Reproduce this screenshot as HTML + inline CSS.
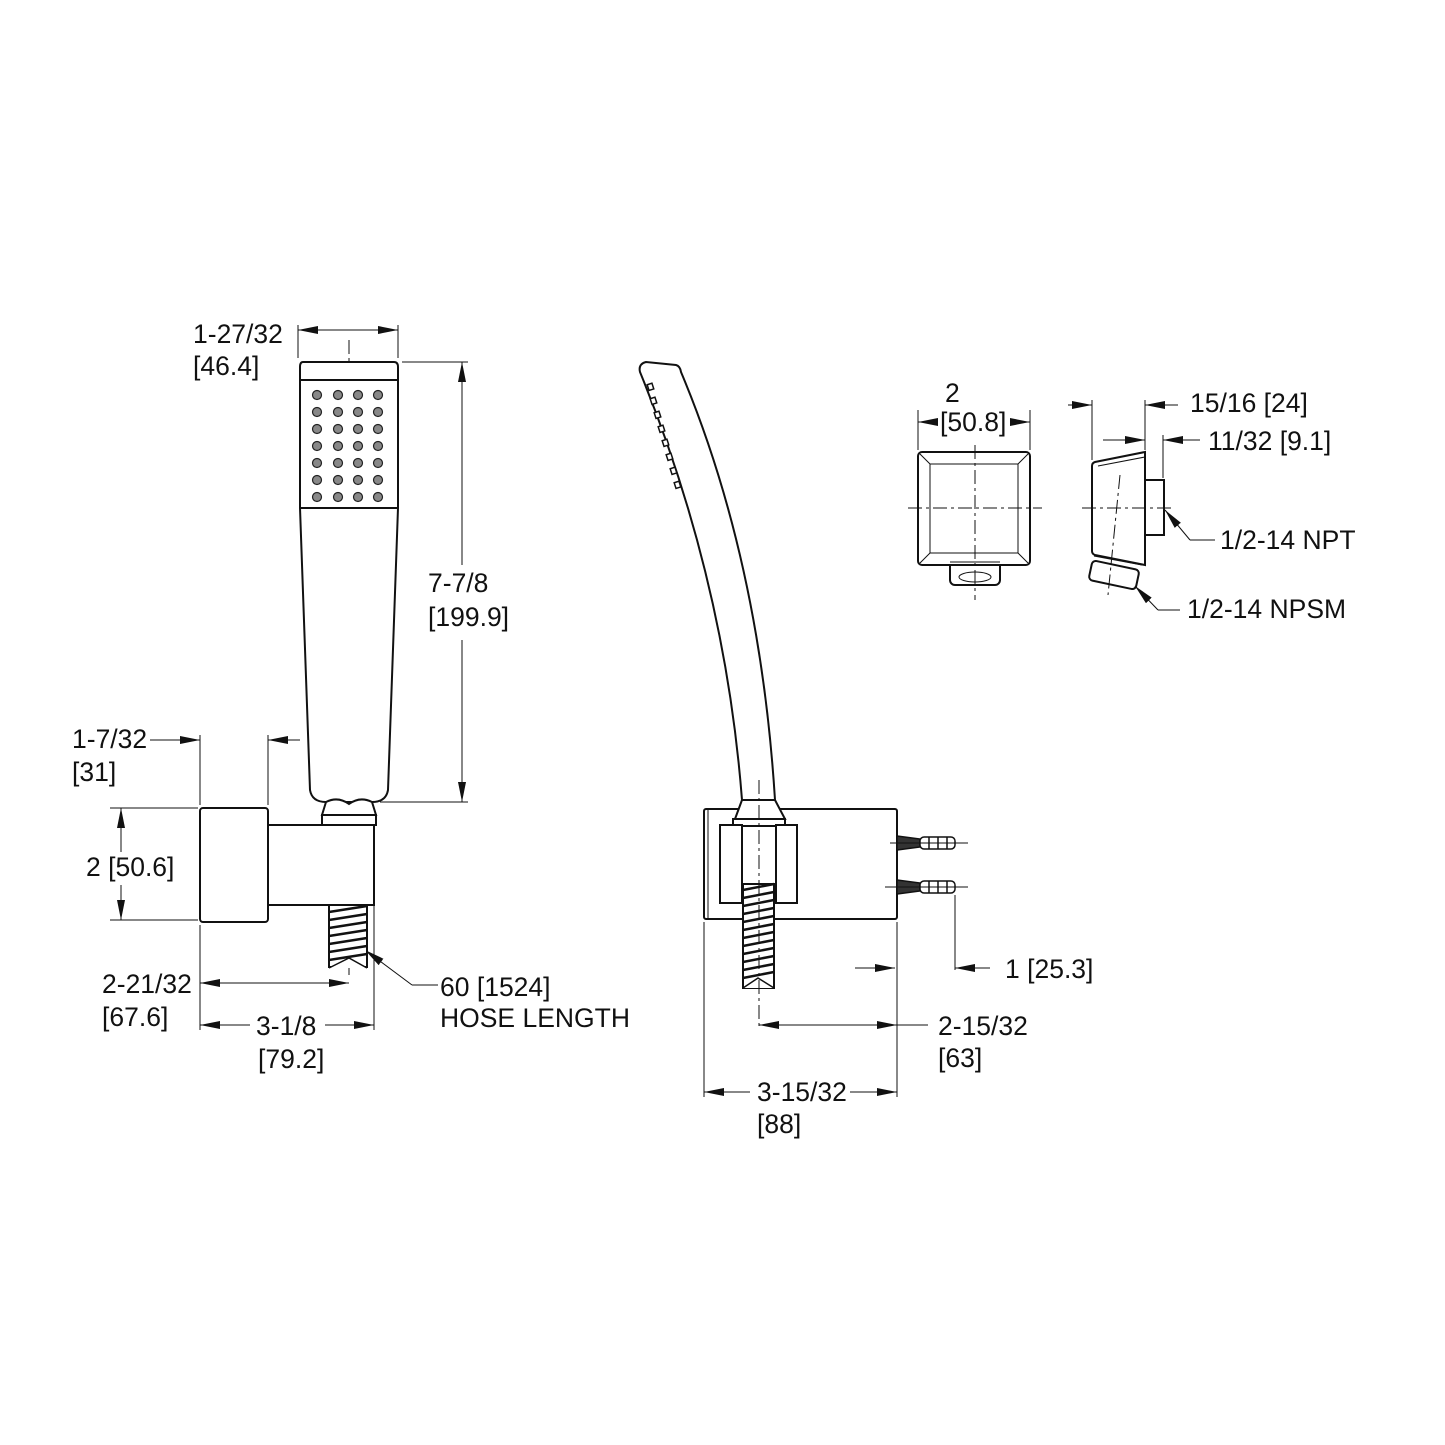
<!DOCTYPE html>
<html><head><meta charset="utf-8"><style>
html,body{margin:0;padding:0;background:#fff}
svg{display:block}
text{font-family:"Liberation Sans",Arial,sans-serif;font-size:26.5px;fill:#111}
</style></head><body>
<svg width="1445" height="1445" viewBox="0 0 1445 1445" xmlns="http://www.w3.org/2000/svg">
<defs>
<marker id="a" viewBox="0 0 20 8" refX="20" refY="4" markerWidth="20" markerHeight="8" markerUnits="userSpaceOnUse" orient="auto-start-reverse"><path d="M0,0 L20,4 L0,8 z" fill="#111"/></marker>
</defs>
<g fill="none" stroke="#111" stroke-width="1">
<line x1="298" y1="325" x2="298" y2="358"/><line x1="398" y1="325" x2="398" y2="358"/>
<line x1="298" y1="330" x2="398" y2="330" marker-start="url(#a)" marker-end="url(#a)"/>
<line x1="402" y1="362" x2="468" y2="362"/><line x1="380" y1="802" x2="468" y2="802"/>
<line x1="462" y1="362" x2="462" y2="565" marker-start="url(#a)"/><line x1="462" y1="640" x2="462" y2="802" marker-end="url(#a)"/>
<line x1="200" y1="735" x2="200" y2="805"/><line x1="268" y1="735" x2="268" y2="805"/>
<line x1="150" y1="740" x2="200" y2="740" marker-end="url(#a)"/><line x1="300" y1="740" x2="268" y2="740" marker-end="url(#a)"/>
<line x1="110" y1="808" x2="198" y2="808"/><line x1="110" y1="920" x2="198" y2="920"/>
<line x1="121" y1="808" x2="121" y2="852" marker-start="url(#a)"/><line x1="121" y1="885" x2="121" y2="920" marker-end="url(#a)"/>
<line x1="200" y1="925" x2="200" y2="1030"/><line x1="374" y1="905" x2="374" y2="1030"/>
<line x1="200" y1="983" x2="349" y2="983" marker-start="url(#a)" marker-end="url(#a)"/>
<line x1="200" y1="1025" x2="250" y2="1025" marker-start="url(#a)"/><line x1="325" y1="1025" x2="374" y2="1025" marker-end="url(#a)"/>
<polyline points="412,985 438,985"/><line x1="412" y1="985" x2="365" y2="950" marker-end="url(#a)"/>
<line x1="349" y1="340" x2="349" y2="975" stroke-dasharray="14,4,3,4"/>
</g>
<g fill="#fff" stroke="#111" stroke-width="2">
<path d="M303,362 H394 Q398,362 398,367 V508 L388,790 Q386,802 372,802 H326 Q312,802 310,790 L300,508 V367 Q300,362 303,362 Z"/>
<line x1="299" y1="380" x2="398" y2="380"/>
<line x1="300" y1="508" x2="398" y2="508"/>
<path d="M326,802 L322,815 H376 L372,802 Q360,796 349,804 Q338,796 326,802Z"/>
<rect x="322" y="815" width="54" height="10"/>
<rect x="268" y="825" width="106" height="80"/>
<rect x="200" y="808" width="68" height="114" rx="3"/>
<rect x="329" y="905" width="38" height="62"/>
</g>
<g stroke="#111" stroke-width="2.5" fill="none">
<path d="M329,912 L367,906 M329,920 L367,914 M329,928 L367,922 M329,936 L367,930 M329,944 L367,938 M329,952 L367,946 M329,960 L367,954"/>
<path d="M329,968 L349,958 L367,968" fill="#fff" stroke-width="1.5"/>
</g>
<g fill="#888" stroke="#222" stroke-width="1.2">
<g id="row"><circle cx="317" cy="395" r="4.5"/><circle cx="338" cy="395" r="4.5"/><circle cx="358" cy="395" r="4.5"/><circle cx="378" cy="395" r="4.5"/></g>
<use href="#row" y="17"/><use href="#row" y="34"/><use href="#row" y="51"/><use href="#row" y="68"/><use href="#row" y="85"/><use href="#row" y="102"/>
</g>
<g fill="#fff" stroke="#111" stroke-width="2">
<path d="M640,372 Q638,364 646,362 L676,365 Q680,366 681,372 Q760,560 775,800 H742 Q725,580 640,372 Z"/>
<rect x="704" y="809" width="193" height="110" rx="2"/>
<line x1="708" y1="810" x2="708" y2="918" stroke-width="1"/>
<path d="M742,800 L735,819 H785 L775,800 Z"/>
<rect x="733" y="819" width="52" height="7"/>
<rect x="720" y="825" width="22" height="78"/>
<rect x="776" y="825" width="21" height="78"/>
<rect x="743" y="884" width="31" height="104"/>
</g>
<g stroke="#111" stroke-width="2.5" fill="none">
<path d="M743,890 L774,884 M743,898 L774,892 M743,906 L774,900 M743,914 L774,908 M743,922 L774,916 M743,930 L774,924 M743,938 L774,932 M743,946 L774,940 M743,954 L774,948 M743,962 L774,956 M743,970 L774,964 M743,978 L774,972"/>
<path d="M743,988 L758,978 L774,988" fill="#fff" stroke-width="1.5"/>
</g>
<g fill="#fff" stroke="#111" stroke-width="1.5">
<rect x="648" y="384" width="5" height="6" transform="rotate(-18 650 387)"/>
<rect x="651" y="398" width="5" height="6" transform="rotate(-18 653 401)"/>
<rect x="655" y="412" width="5" height="6" transform="rotate(-18 657 415)"/>
<rect x="659" y="426" width="5" height="6" transform="rotate(-18 661 429)"/>
<rect x="663" y="440" width="5" height="6" transform="rotate(-18 665 443)"/>
<rect x="667" y="454" width="5" height="6" transform="rotate(-18 669 457)"/>
<rect x="671" y="468" width="5" height="6" transform="rotate(-18 673 471)"/>
<rect x="675" y="482" width="5" height="6" transform="rotate(-18 677 485)"/>
</g>
<g stroke="#111" fill="#fff" stroke-width="1.5">
<path d="M897,836 L920,839 V847 L897,850Z" fill="#333"/><rect x="920" y="837" width="35" height="12" rx="4"/>
<path d="M897,880 L920,883 V891 L897,894Z" fill="#333"/><rect x="920" y="881" width="35" height="12" rx="4"/>
<path d="M929,837v12M938,837v12M947,837v12M929,881v12M938,881v12M947,881v12" />
</g>
<g fill="none" stroke="#111" stroke-width="1">
<line x1="890" y1="843" x2="968" y2="843"/><line x1="885" y1="887" x2="968" y2="887"/>
<line x1="759" y1="780" x2="759" y2="1030" stroke-dasharray="14,4,3,4"/>
<line x1="955" y1="895" x2="955" y2="970"/>
<line x1="855" y1="968" x2="895" y2="968" marker-end="url(#a)"/><line x1="990" y1="968" x2="955" y2="968" marker-end="url(#a)"/>
<line x1="704" y1="922" x2="704" y2="1097"/><line x1="897" y1="922" x2="897" y2="1097"/>
<line x1="759" y1="1025" x2="897" y2="1025" marker-start="url(#a)" marker-end="url(#a)"/><line x1="897" y1="1025" x2="928" y2="1025"/>
<line x1="704" y1="1092" x2="750" y2="1092" marker-start="url(#a)"/><line x1="850" y1="1092" x2="897" y2="1092" marker-end="url(#a)"/>
</g>
<g fill="#fff" stroke="#111" stroke-width="2">
<rect x="950" y="555" width="50" height="30" rx="5"/>
<rect x="918" y="452" width="112" height="113" rx="4"/>
</g>
<g fill="none" stroke="#111" stroke-width="1">
<rect x="930" y="464" width="88" height="89"/>
<path d="M920,454 L930,464 M1028,454 L1018,464 M920,563 L930,553 M1028,563 L1018,553"/>
<ellipse cx="975" cy="577" rx="16" ry="5"/><line x1="950" y1="562" x2="1000" y2="562"/>
<line x1="908" y1="508" x2="1042" y2="508" stroke-dasharray="14,4,3,4"/>
<line x1="975" y1="445" x2="975" y2="600" stroke-dasharray="14,4,3,4"/>
<line x1="918" y1="410" x2="918" y2="450"/><line x1="1030" y1="410" x2="1030" y2="450"/>
<line x1="938" y1="422" x2="918" y2="422" marker-end="url(#a)"/><line x1="1010" y1="422" x2="1030" y2="422" marker-end="url(#a)"/>
</g>
<g fill="#fff" stroke="#111" stroke-width="2">
<rect x="1145" y="480" width="19" height="55"/>
<path d="M1092,466 Q1092,463 1095,462 L1145,452 V565 L1095,555 Q1092,554 1092,551Z"/>
<rect x="1090" y="565" width="48" height="20" rx="4" transform="rotate(12 1114 575)"/>
</g>
<g fill="none" stroke="#111" stroke-width="1">
<path d="M1098,466 L1145,457"/><path d="M1094,556 L1142,565" />
<line x1="1082" y1="508" x2="1175" y2="508" stroke-dasharray="14,4,3,4"/>
<line x1="1120" y1="475" x2="1108" y2="595" stroke-dasharray="14,4,3,4"/>
<line x1="1092" y1="400" x2="1092" y2="460"/><line x1="1145" y1="400" x2="1145" y2="450"/><line x1="1163" y1="435" x2="1163" y2="478"/>
<line x1="1068" y1="405" x2="1092" y2="405" marker-end="url(#a)"/><line x1="1178" y1="405" x2="1145" y2="405" marker-end="url(#a)"/>
<line x1="1103" y1="440" x2="1145" y2="440" marker-end="url(#a)"/><line x1="1200" y1="440" x2="1163" y2="440" marker-end="url(#a)"/>
<polyline points="1190,540 1215,540"/><line x1="1190" y1="540" x2="1165" y2="510" marker-end="url(#a)"/>
<polyline points="1158,610 1180,610"/><line x1="1158" y1="610" x2="1135" y2="586" marker-end="url(#a)"/>
</g>
<text x="193" y="343">1-27/32</text><text x="193" y="375">[46.4]</text>
<text x="428" y="592">7-7/8</text><text x="428" y="626">[199.9]</text>
<text x="72" y="748">1-7/32</text><text x="72" y="781">[31]</text>
<text x="86" y="876">2 [50.6]</text>
<text x="102" y="993">2-21/32</text><text x="102" y="1026">[67.6]</text>
<text x="256" y="1035">3-1/8</text><text x="258" y="1068">[79.2]</text>
<text x="440" y="996">60 [1524]</text><text x="440" y="1027">HOSE LENGTH</text>
<text x="1005" y="978">1  [25.3]</text>
<text x="938" y="1035">2-15/32</text><text x="938" y="1067">[63]</text>
<text x="757" y="1101">3-15/32</text><text x="757" y="1133">[88]</text>
<text x="945" y="402">2</text><text x="940" y="431">[50.8]</text>
<text x="1190" y="412">15/16 [24]</text>
<text x="1208" y="450">11/32 [9.1]</text>
<text x="1220" y="549">1/2-14 NPT</text>
<text x="1187" y="618">1/2-14 NPSM</text>
</svg>
</body></html>
